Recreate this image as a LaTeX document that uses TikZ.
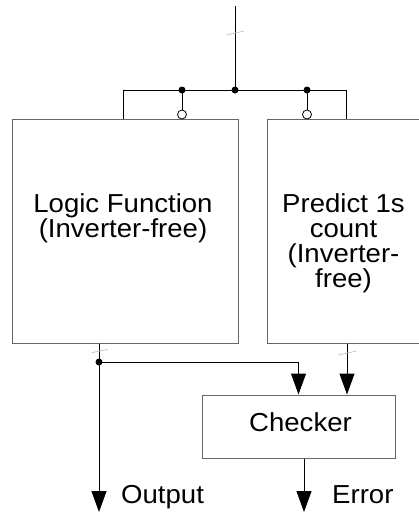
\documentclass[tikz,border=0pt]{standalone}
\usepackage{fontspec}
\setmainfont[FakeStretch=1.06]{Liberation Sans}
\usetikzlibrary{arrows.meta}

\begin{document}
\begin{tikzpicture}[
  x=1pt,
  y=-1pt,
  line join=miter,
  block/.style={draw=black!60,line width=1pt,inner sep=0pt},
  wire/.style={draw=black,line width=1pt},
  flow/.style={wire,-{Triangle[length=21pt,width=15pt]}},
  bubble/.style={circle,draw=black,line width=0.8pt,fill=white,inner sep=0pt,minimum size=9pt},
  busmark/.style={draw=black!22,line width=0.8pt},
  txt/.style={font=\fontsize{26}{25}\selectfont,inner sep=0pt}
]
  \useasboundingbox (0,0) rectangle (419,512);

  % Blocks.
  \node[block,minimum width=226pt,minimum height=224pt] (logic) at (125,231) {};
  \node[block,minimum width=160pt,minimum height=224pt] (predict) at (347,231) {};
  \node[block,minimum width=193pt,minimum height=63pt] (checker) at (298.5,426.5) {};

  \node[txt,align=center,anchor=north] (logiclbl) at (123,193) {Logic Function\\(Inverter-free)};
  \node[txt,align=center,anchor=north] (predlbl) at (343.5,193) {Predict 1s\\count\\(Inverter-\\free)};
  \node[txt,anchor=base] (chklbl) at (300.5,431.5) {Checker};

  % Input bus.
  \coordinate (in) at (235,6);
  \coordinate (tap) at (235,90);
  \coordinate (tapL) at (182,90);
  \coordinate (tapR) at (307,90);
  \coordinate (busL) at (123,90);
  \coordinate (busR) at (346,90);
  \node[bubble] (invL) at (182,114.5) {};
  \node[bubble] (invR) at (307,114.5) {};

  \draw[wire] (in) -- (tap);
  \draw[wire] (logic.north -| busL) -- (busL) -- (busR) -- (predict.north -| busR);
  \draw[wire] (tapL) -- (invL.north);
  \draw[wire] (tapR) -- (invR.north);
  \foreach \p in {tapL,tap,tapR} {
    \fill[black] (\p) circle[radius=3.5pt];
  }

  % Outputs and checker.
  \coordinate (outtap) at (99,362);
  \coordinate (outtip) at (99,512);
  \coordinate (errtip) at (304,512);
  \draw[wire] (logic.south -| outtap) -- (outtap);
  \draw[flow] (outtap) -- (outtip);
  \draw[flow] (outtap) -| (checker.north);
  \draw[flow] (predict.south) -- (checker.north -| predict.south);
  \draw[flow] (checker.south -| errtip) -- (errtip);
  \fill[black] (outtap) circle[radius=3.5pt];

  \node[txt,anchor=base west] (outlbl) at (121,503) {Output};
  \node[txt,anchor=base west] (errlbl) at (332,503) {Error};

  % Bus width marks.
  \draw[busmark] (226.5,35) -- (244,31);
  \draw[busmark] (91.5,352.7) -- (108,349.3);
  \draw[busmark] (338,355) -- (356.5,351);
\end{tikzpicture}
\end{document}
